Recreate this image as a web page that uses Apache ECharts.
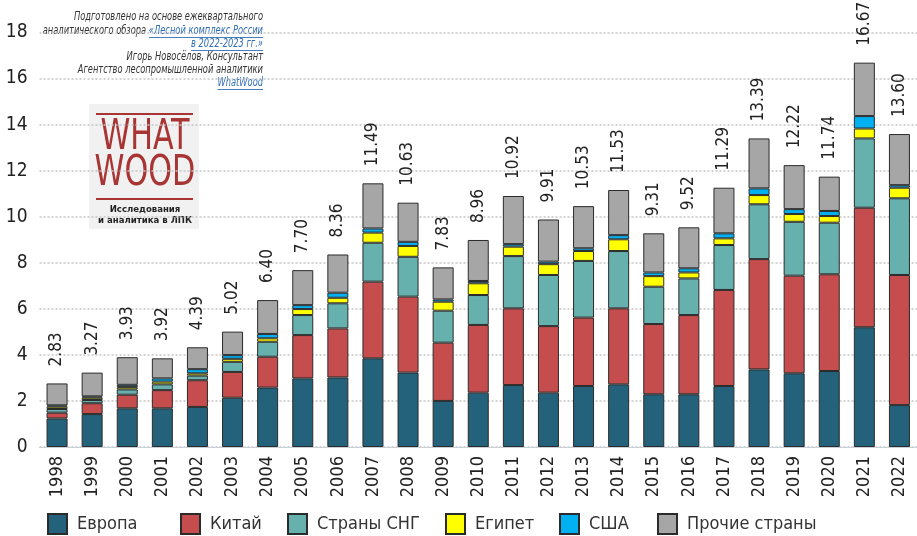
<!DOCTYPE html>
<html>
<head>
<meta charset="utf-8">
<script src="https://cdn.jsdelivr.net/npm/echarts@6/dist/echarts.min.js"></script>
<style>
  html, body { margin: 0; padding: 0; background: #fff; }
  #chart { width: 917px; height: 536px; }
</style>
</head>
<body>
<div id="chart"></div>
<script>
const years = ['1998', '1999', '2000', '2001', '2002', '2003', '2004', '2005', '2006', '2007', '2008', '2009',
  '2010', '2011', '2012', '2013', '2014', '2015', '2016', '2017', '2018', '2019', '2020', '2021', '2022']

const europe = [1.24, 1.43, 1.68, 1.68, 1.74, 2.14, 2.58, 2.98, 3.02, 3.85, 3.23, 2.00, 2.36, 2.69, 2.36, 2.65, 2.72, 2.29, 2.29, 2.65, 3.37, 3.20, 3.30, 5.20, 1.82]
const china = [0.25, 0.47, 0.59, 0.79, 1.16, 1.12, 1.34, 1.88, 2.13, 3.33, 3.30, 2.53, 2.94, 3.33, 2.89, 2.97, 3.30, 3.05, 3.44, 4.17, 4.79, 4.24, 4.20, 5.19, 5.65]
const cis = [0.16, 0.14, 0.23, 0.25, 0.20, 0.44, 0.65, 0.87, 1.09, 1.69, 1.73, 1.39, 1.30, 2.27, 2.22, 2.46, 2.49, 1.62, 1.59, 1.95, 2.38, 2.34, 2.24, 3.01, 3.33]
const egypt = [0.10, 0.10, 0.10, 0.12, 0.10, 0.13, 0.15, 0.26, 0.24, 0.44, 0.47, 0.39, 0.51, 0.41, 0.47, 0.43, 0.51, 0.46, 0.26, 0.29, 0.40, 0.34, 0.29, 0.43, 0.46]
const usa = [0.06, 0.06, 0.10, 0.14, 0.18, 0.16, 0.19, 0.17, 0.22, 0.18, 0.18, 0.10, 0.10, 0.11, 0.11, 0.12, 0.18, 0.16, 0.18, 0.22, 0.29, 0.21, 0.22, 0.54, 0.11]
const others = [0.95, 1.03, 1.20, 0.87, 0.95, 1.02, 1.47, 1.52, 1.66, 1.96, 1.70, 1.39, 1.78, 2.09, 1.83, 1.83, 1.96, 1.70, 1.78, 1.98, 2.17, 1.91, 1.49, 2.32, 2.22]
const totals = ['2.83', '3.27', '3.93', '3.92', '4.39', '5.02', '6.40', '7.70', '8.36', '11.49', '10.63', '7.83',
  '8.96', '10.92', '9.91', '10.53', '11.53', '9.31', '9.52', '11.29', '13.39', '12.22', '11.74', '16.67', '13.60']

const seriesList = [
  { name: 'Европа', data: europe, color: '#23627a', legendLeft: 47 },
  { name: 'Китай', data: china, color: '#c64d4d', legendLeft: 180 },
  { name: 'Страны СНГ', data: cis, color: '#66b0ae', legendLeft: 287 },
  { name: 'Египет', data: egypt, color: '#ffff00', legendLeft: 445 },
  { name: 'США', data: usa, color: '#00b0f0', legendLeft: 559 },
  { name: 'Прочие страны', data: others, color: '#a6a6a6', legendLeft: 657 }
]

const FONT = '"DejaVu Sans Condensed", "Liberation Sans Narrow", sans-serif'
const NOTE_FONT = 'italic 12px "DejaVu Sans Condensed", sans-serif'
const LINK = '#2f6db5'

const measure = document.createElement('canvas').getContext('2d')
measure.font = NOTE_FONT
function textWidth(s) {
  return measure.measureText(s).width
}

// note in the top left corner, squeezed horizontally to look like a narrow font
const noteLines = [
  { y: 17, parts: [['Подготовлено на основе ежеквартального', '#333']] },
  { y: 31, parts: [['аналитического обзора ', '#333'], ['«Лесной комплекс России', LINK]] },
  { y: 44, parts: [['в 2022-2023 гг.»', LINK]] },
  { y: 57, parts: [['Игорь Новосёлов, Консультант', '#333']] },
  { y: 70, parts: [['Агентство лесопромышленной аналитики', '#333']] },
  { y: 83, parts: [['WhatWood', LINK]] }
]
const noteChildren = []
noteLines.forEach(line => {
  let right = 0
  for (let i = line.parts.length - 1; i >= 0; i--) {
    const [text, color] = line.parts[i]
    const w = textWidth(text)
    noteChildren.push({
      type: 'text',
      style: { text: text, x: right, y: line.y, align: 'right', verticalAlign: 'middle', font: NOTE_FONT, fill: color }
    })
    if (color === LINK) {
      noteChildren.push({
        type: 'line',
        shape: { x1: right - w, y1: line.y + 6.5, x2: right, y2: line.y + 6.5 },
        style: { stroke: LINK, lineWidth: 1 }
      })
    }
    right -= w
  }
})

const graphics = [
  { type: 'group', x: 263, y: 0, scaleX: 0.77, children: noteChildren },
  // WhatWood logo
  { type: 'rect', shape: { x: 89, y: 104, width: 110, height: 125 }, style: { fill: '#f1f1f1' } },
  { type: 'rect', shape: { x: 96, y: 113, width: 97, height: 2 }, style: { fill: '#a83434' } },
  { type: 'rect', shape: { x: 96, y: 198, width: 97, height: 2 }, style: { fill: '#a83434' } },
  {
    type: 'text', x: 145, y: 138, scaleX: 0.8,
    style: { text: 'WHAT', x: 0, y: 0, align: 'center', verticalAlign: 'middle', font: '42px "DejaVu Sans Condensed", sans-serif', fill: '#a83434' }
  },
  {
    type: 'text', x: 145, y: 174, scaleX: 0.8,
    style: { text: 'WOOD', x: 0, y: 0, align: 'center', verticalAlign: 'middle', font: '42px "DejaVu Sans Condensed", sans-serif', fill: '#a83434' }
  },
  {
    type: 'text',
    style: { text: 'Исследования', x: 145, y: 210, align: 'center', verticalAlign: 'middle', font: 'bold 9.5px "DejaVu Sans Condensed", sans-serif', fill: '#222' }
  },
  {
    type: 'text',
    style: { text: 'и аналитика в ЛПК', x: 145, y: 221, align: 'center', verticalAlign: 'middle', font: 'bold 9.5px "DejaVu Sans Condensed", sans-serif', fill: '#222' }
  }
]

const chart = echarts.init(document.getElementById('chart'))

chart.setOption({
  animation: false,
  textStyle: { fontFamily: FONT },
  grid: {
    left: 39.5,
    right: -11.7,
    top: 32.5,
    bottom: 89
  },
  legend: seriesList.map(item => ({
    data: [item.name],
    left: item.legendLeft,
    top: 513,
    padding: 0,
    icon: 'rect',
    itemWidth: 19,
    itemHeight: 20,
    textStyle: { fontSize: 18, color: '#333', fontFamily: FONT, padding: [0, 0, 0, 5] }
  })),
  xAxis: {
    type: 'category',
    data: years,
    axisTick: { show: false },
    axisLine: { lineStyle: { color: '#c8d0d8', width: 1 } },
    axisLabel: { rotate: 90, interval: 0, fontSize: 18, color: '#222', margin: 9 }
  },
  yAxis: {
    type: 'value',
    min: 0,
    max: 18,
    interval: 2,
    axisLine: { show: false },
    axisTick: { show: false },
    axisLabel: { fontSize: 19, color: '#222', margin: 12 },
    splitLine: { lineStyle: { color: '#c4c4c4', type: [2, 2], width: 1.5 } }
  },
  series: seriesList.map((item, idx) => {
    const s = {
      name: item.name,
      type: 'bar',
      stack: 'total',
      barWidth: 21,
      data: item.data,
      itemStyle: { color: item.color, borderColor: '#2b2b2b', borderWidth: 1 }
    }
    if (idx === seriesList.length - 1) {
      s.label = {
        show: true,
        position: 'top',
        rotate: 90,
        align: 'left',
        verticalAlign: 'middle',
        distance: 17,
        fontSize: 17,
        color: '#222',
        formatter: p => totals[p.dataIndex]
      }
    }
    return s
  }),
  graphic: graphics
})
</script>
</body>
</html>
